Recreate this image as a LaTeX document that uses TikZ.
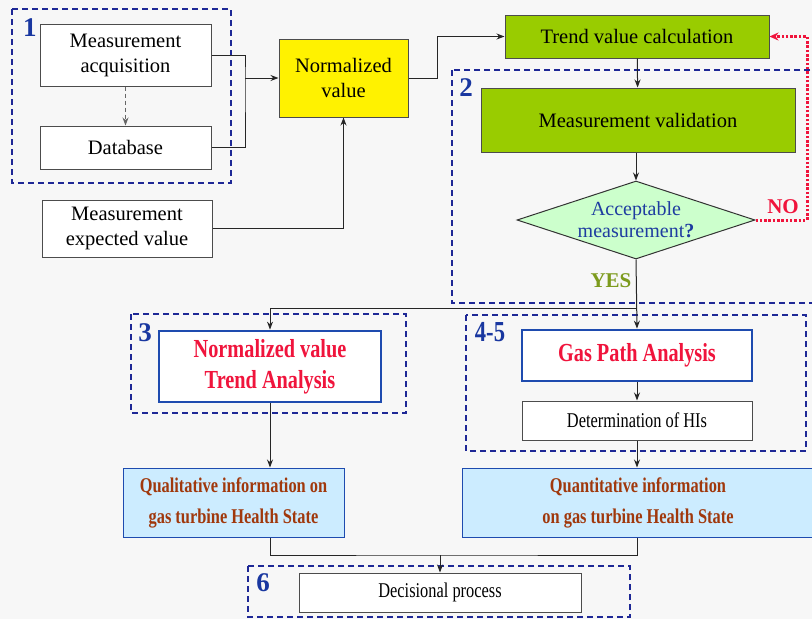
\documentclass[tikz,border=0pt]{standalone}
\usepackage{fontspec}
\setmainfont{Liberation Serif}
\newfontfamily\bodyfont{Liberation Serif}
\newfontfamily\condfont[FakeStretch=0.78]{Liberation Serif}
\usetikzlibrary{shapes.geometric, positioning, arrows.meta}

\definecolor{bgray}{RGB}{247,247,247}
\definecolor{framblue}{RGB}{30,40,150}
\definecolor{numblue}{RGB}{25,55,160}
\definecolor{valgreen}{RGB}{153,204,0}
\definecolor{diagreen}{RGB}{204,255,204}
\definecolor{askblue}{RGB}{30,60,160}
\definecolor{nored}{RGB}{240,20,60}
\definecolor{yesgreen}{RGB}{125,155,30}
\definecolor{anablue}{RGB}{30,75,175}
\definecolor{infofill}{RGB}{204,236,255}
\definecolor{infobrown}{RGB}{160,56,12}

\tikzset{
  plain/.style={draw=black!70, line width=1pt, fill=white, inner sep=0pt, align=center,
    font=\bodyfont\fontsize{20.5}{25}\selectfont},
  greenbox/.style={plain, fill=valgreen},
  analysis/.style={draw=anablue, line width=2.8pt, fill=white, inner sep=0pt, align=center,
    text=nored, font=\condfont\bfseries\fontsize{26}{31}\selectfont},
  info/.style={draw=anablue, line width=1pt, fill=infofill, inner sep=0pt, align=center,
    text=infobrown, font=\condfont\bfseries\fontsize{21}{31}\selectfont},
  group/.style={draw=framblue, line width=1.5pt, dash pattern=on 6pt off 4pt},
  grouplabel/.style={text=numblue, font=\bodyfont\bfseries\fontsize{27}{27}\selectfont, inner sep=0pt},
  link/.style={draw=black!85, line width=1pt},
  arr/.style={link, -{Stealth[length=8pt,width=6pt]}}
}

\begin{document}
\begin{tikzpicture}[x=1pt, y=-1pt]
    % Page
    \fill[bgray] (0,0) rectangle (812,619);
    \useasboundingbox (0,0) rectangle (812,619);

    % Groups
    \draw[group] (12,9) rectangle (231,183);
    \node[grouplabel] (g1) at (30,28) {1};
    \draw[group] (452,70) rectangle (818,303);
    \node[grouplabel] (g2) at (466,88) {2};
    \draw[group] (131,314) rectangle (406,413);
    \node[grouplabel] (g3) at (145,333) {3};
    \draw[group] (466,315) rectangle (806,451);
    \node[grouplabel, font=\condfont\bfseries\fontsize{29}{29}\selectfont] (g45) at (490,332) {4-5};
    \draw[group] (248,566) rectangle (630,617);
    \node[grouplabel] (g6) at (263,583) {6};

    % Nodes
    \node[plain, minimum width=171pt, minimum height=62pt] (acq) at (125.5,55) {Measurement\\acquisition};
    \node[plain, minimum width=171pt, minimum height=43pt] (db) at (125.5,147.5) {Database};
    \node[plain, minimum width=170pt, minimum height=57pt] (expv) at (127,228.5) {Measurement\\expected value};
    \node[plain, fill=yellow, minimum width=129pt, minimum height=78pt] (norm) at (343.5,78) {Normalized\\value};
    \node[greenbox, minimum width=264pt, minimum height=43pt] (trend) at (637,36.5) {Trend value calculation};
    \node[greenbox, minimum width=314pt, minimum height=64pt] (valid) at (638,120) {Measurement validation};
    \node[diamond, draw=black!80, line width=1pt, fill=diagreen, aspect=3.05, minimum width=238pt, minimum height=78pt,
      inner sep=0pt, align=center, text=askblue, font=\bodyfont\fontsize{20}{22}\selectfont] (accept) at (636,220)
      {Acceptable\\measurement\textbf{?}};
    \node[analysis, minimum width=222pt, minimum height=71pt] (nvta) at (270,366.5) {Normalized value\\Trend Analysis};
    \node[analysis, minimum width=230pt, minimum height=51pt] (gpa) at (637,355.5) {Gas Path Analysis};
    \node[plain, font=\condfont\fontsize{21}{25}\selectfont, minimum width=230pt, minimum height=39pt] (his) at (637,420.5) {Determination of HIs};
    \node[info, minimum width=221pt, minimum height=69pt] (qual) at (233.5,502.5) {Qualitative information on\\gas turbine Health State};
    \node[info, minimum width=352pt, minimum height=69pt] (quant) at (638,502.5) {Quantitative information\\on gas turbine Health State};
    \node[plain, font=\condfont\fontsize{21}{25}\selectfont, minimum width=282pt, minimum height=39pt] (dec) at (440,592.5) {Decisional process};

    % Answer labels
    \node[text=nored, font=\bodyfont\bfseries\fontsize{21}{21}\selectfont, inner sep=0pt] (no) at (783,207) {NO};
    \node[text=yesgreen, font=\bodyfont\bfseries\fontsize{21}{21}\selectfont, inner sep=0pt] (yes) at (611,281) {YES};

    % Junction points
    \coordinate (j1) at (245,78);
    \coordinate (j2) at (637,308);
    \coordinate (j3) at (440,555);

    % Connections
    \draw[link, dash pattern=on 4pt off 3pt, draw=black!60, -{Stealth[length=8pt,width=6pt]}] (acq) -- (db);
    \draw[link] (acq.east) -| (j1) |- (db.east);
    \draw[arr] (j1) -- (norm.west);
    \draw[arr] (expv.east) -| (norm.south);
    \draw[arr] (norm.east) -- ++(29,0) |- (trend.west);
    \draw[arr] (trend) -- (valid);
    \draw[arr] (valid.south -| accept.north) -- (accept.north);
    \draw[nored, line width=3pt, dash pattern=on 2.5pt off 1.8pt, -{Stealth[length=9pt,width=8pt]}] (accept.east) -- (807,220) |- (trend.east);
    \draw[arr] (accept.south) -- (gpa.north);
    \draw[arr] (j2) -| (nvta.north);
    \draw[arr] (gpa) -- (his);
    \draw[arr] (his) -- (quant.north -| his.south);
    \draw[arr] (nvta.south) -- (nvta.south |- qual.north);
    \draw[link] (qual.south -| nvta.south) |- (j3) -| (quant.south -| his.south);
    \draw[arr] (j3) -- (dec.north);
\end{tikzpicture}
\end{document}
